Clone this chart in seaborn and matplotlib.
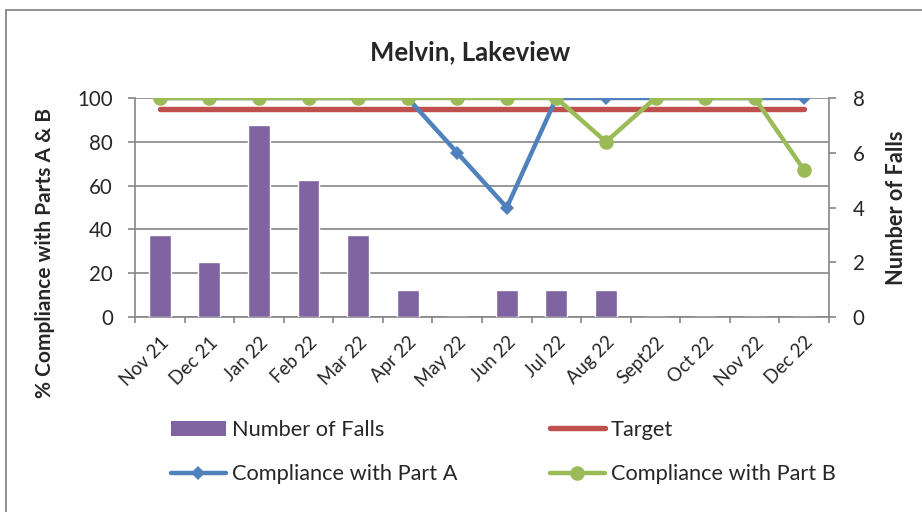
import numpy as np
import matplotlib
matplotlib.use("Agg")
import matplotlib.pyplot as plt
from matplotlib.patches import Patch, Rectangle
from matplotlib.lines import Line2D
import seaborn as sns

months = ["Nov 21", "Dec 21", "Jan 22", "Feb 22", "Mar 22", "Apr 22", "May 22",
          "Jun 22", "Jul 22", "Aug 22", "Sept22", "Oct 22", "Nov 22", "Dec 22"]
falls = [3, 2, 7, 5, 3, 1, 0, 1, 1, 1, 0, 0, 0, 0]
target = [95, 95, 95, 95, 95, 95, 95, 95, 95, 95, 95, 95, 95, 95]
part_a = [100, 100, 100, 100, 100, 100, 75, 50, 100, 100, 100, 100, 100, 100]
part_b = [100, 100, 100, 100, 100, 100, 100, 100, 100, 80, 100, 100, 100, 67]
pct_ticks = [0, 20, 40, 60, 80, 100]
falls_ticks = [0, 2, 4, 6, 8]

PURPLE = "#8064A2"
RED = "#C0504D"
BLUE = "#4F81BD"
GREEN = "#9BBB59"
GRID = "#868686"

sns.set_theme(style="white")
plt.rcParams["font.family"] = ["Lato", "DejaVu Sans"]

fig = plt.figure(figsize=(9.22, 5.12), dpi=100)
fig.patch.set_facecolor("white")

# chart-area border
fig.add_artist(Rectangle((6 / 922, -0.05), 1.2, 1 - 10 / 512 + 0.05,
                         transform=fig.transFigure, fill=False,
                         edgecolor="#878787", linewidth=1.3))

rect = [135 / 922, 1 - 317 / 512, (829 - 135) / 922, (317 - 98) / 512]
ax = fig.add_axes(rect)          # percentage scale, grid + left ticks
ax_bar = ax.twinx()              # falls scale, bars + right ticks
ax_line = ax.twinx()             # percentage scale, lines on top

pos = np.arange(len(months))

# bars
sns.barplot(x=pos, y=falls, ax=ax_bar, color=PURPLE, width=0.44,
            saturation=1, native_scale=True)

# lines
sns.lineplot(x=pos, y=target, ax=ax_line, color=RED, linewidth=3.9,
             solid_capstyle="round")
sns.lineplot(x=pos, y=part_a, ax=ax_line, color=BLUE, linewidth=3.2,
             marker="D", markersize=7.5, markeredgewidth=0)
sns.lineplot(x=pos, y=part_b, ax=ax_line, color=GREEN, linewidth=3.2,
             marker="o", markersize=10.5, markeredgewidth=0)

for a in (ax, ax_bar, ax_line):
    a.set_xlim(-0.5, len(months) - 0.5)
    a.set_xlabel("")
    a.set_ylabel("")

ax.set_ylim(0, 100)
ax_line.set_ylim(0, 100)
ax_bar.set_ylim(0, 8)

ax.set_yticks(pct_ticks)
ax.set_yticklabels([str(t) for t in pct_ticks], fontsize=14.8)
ax.grid(axis="y", color=GRID, linewidth=1.2)
ax.grid(axis="x", visible=False)
ax.set_axisbelow(True)

ax_bar.set_yticks(falls_ticks)
ax_bar.set_yticklabels([str(t) for t in falls_ticks], fontsize=14.8)
ax_bar.grid(False)
ax_bar.patch.set_visible(False)

ax_line.set_yticks([])
ax_line.grid(False)
ax_line.patch.set_visible(False)
for s in ax_line.spines.values():
    s.set_visible(False)
for s in ax_bar.spines.values():
    s.set_visible(False)

# x axis: ticks at category boundaries, labels at centres
ax.set_xticks(np.arange(-0.5, len(months) + 0.5, 1.0))
ax.set_xticklabels([])
ax.set_xticks(pos, minor=True)
ax.set_xticklabels(months, minor=True, rotation=45, ha="right",
                   rotation_mode="anchor", fontsize=13.4)
ax.tick_params(axis="x", which="minor", length=0, pad=12)
ax.tick_params(axis="x", which="major", length=4.3, width=1.2, color=GRID,
               direction="out", bottom=True)
ax.tick_params(axis="y", length=5, width=1.2, color=GRID, direction="out",
               left=True, pad=11)
ax_bar.tick_params(axis="y", length=5, width=1.2, color=GRID,
                   direction="out", right=True, pad=12)
ax_bar.tick_params(axis="x", bottom=False, labelbottom=False)
ax_line.tick_params(axis="x", bottom=False, labelbottom=False)

for side in ("left", "right", "bottom"):
    ax.spines[side].set_visible(True)
    ax.spines[side].set_color(GRID)
    ax.spines[side].set_linewidth(1.2)
ax.spines["top"].set_visible(False)

ax.set_ylabel("% Compliance with Parts A & B", fontsize=15,
              fontweight="bold")
ax.yaxis.set_label_coords(-0.115, 0.29)
ax_bar.set_ylabel("Number of Falls", fontsize=15.7, fontweight="bold",
                  rotation=90)
ax_bar.yaxis.set_label_coords(1.082, 0.5)

fig.text(470 / 922, 1 - 52 / 512, "Melvin, Lakeview", ha="center",
         va="center", fontsize=18.5, fontweight="bold")

handles = [
    Patch(facecolor=PURPLE, edgecolor="none"),
    Line2D([], [], color=BLUE, linewidth=3.2, marker="D", markersize=7.5,
           markeredgewidth=0),
    Line2D([], [], color=RED, linewidth=3.9, solid_capstyle="round"),
    Line2D([], [], color=GREEN, linewidth=3.2, marker="o", markersize=10.5,
           markeredgewidth=0),
]
labels = ["Number of Falls", "Compliance with Part A", "Target",
          "Compliance with Part B"]
fig.legend(handles, labels, ncol=2, loc="upper left",
           bbox_to_anchor=(171 / 922, 1 - 420 / 512), frameon=False,
           fontsize=15.7, handlelength=2.5, handletextpad=0.28,
           columnspacing=4.27, labelspacing=1.12, borderaxespad=0,
           borderpad=0)

fig.savefig("out.png", dpi=100, facecolor="white")
